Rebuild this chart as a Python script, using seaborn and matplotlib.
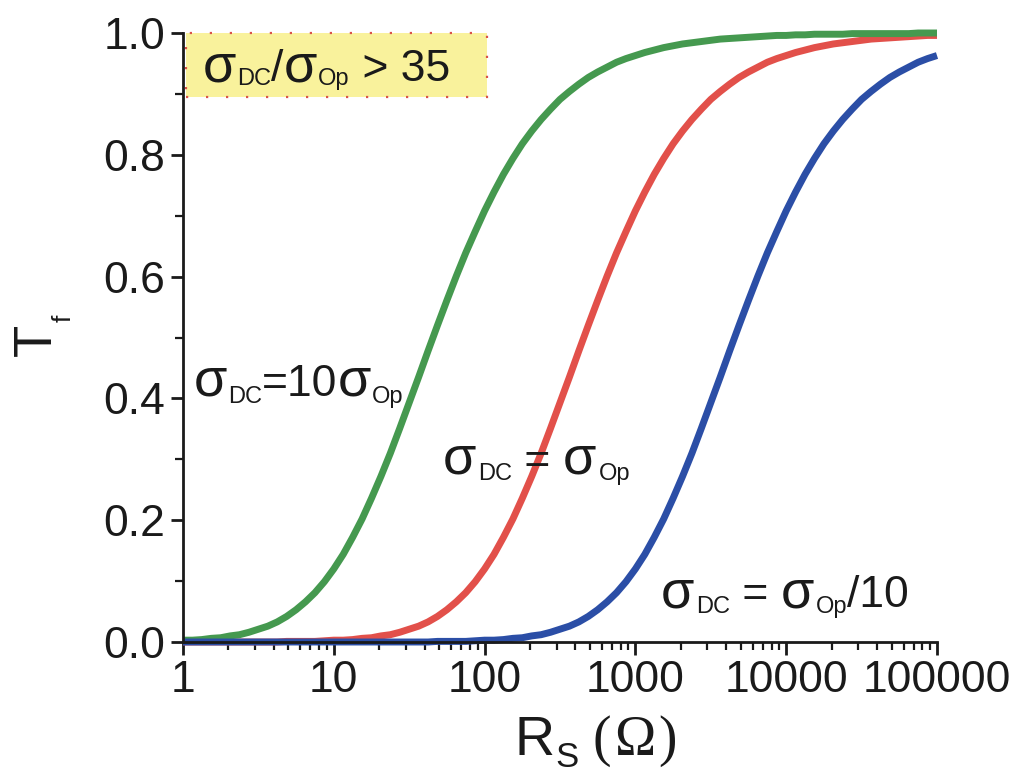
import matplotlib
matplotlib.use("Agg")
import matplotlib.pyplot as plt
import matplotlib.ticker as mticker
from matplotlib.patches import Rectangle
import numpy as np
import pandas as pd
import seaborn as sns

# Sheet resistance R_S (ohm), sampled every 1/16 decade
r_s = [1.000, 1.155, 1.334, 1.540, 1.778, 2.054, 2.371, 2.738,
       3.162, 3.652, 4.217, 4.870, 5.623, 6.494, 7.499, 8.660,
       10.00, 11.55, 13.34, 15.40, 17.78, 20.54, 23.71, 27.38,
       31.62, 36.52, 42.17, 48.70, 56.23, 64.94, 74.99, 86.60,
       100.0, 115.5, 133.4, 154.0, 177.8, 205.4, 237.1, 273.8,
       316.2, 365.2, 421.7, 487.0, 562.3, 649.4, 749.9, 866.0,
       1000, 1155, 1334, 1540, 1778, 2054, 2371, 2738,
       3162, 3652, 4217, 4870, 5623, 6494, 7499, 8660,
       10000, 11550, 13340, 15400, 17780, 20540, 23710, 27380,
       31620, 36520, 42170, 48700, 56230, 64940, 74990, 86600,
       100000]

# Transmittance T_f, sigma_DC = 10 sigma_Op
t_ratio_10 = [0.003, 0.003, 0.004, 0.006, 0.007, 0.010, 0.012, 0.016,
              0.021, 0.026, 0.033, 0.042, 0.053, 0.066, 0.081, 0.099,
              0.120, 0.144, 0.172, 0.202, 0.236, 0.272, 0.310, 0.351,
              0.393, 0.435, 0.478, 0.520, 0.561, 0.601, 0.639, 0.674,
              0.708, 0.739, 0.768, 0.794, 0.818, 0.839, 0.858, 0.875,
              0.891, 0.904, 0.916, 0.927, 0.936, 0.944, 0.952, 0.958,
              0.963, 0.968, 0.972, 0.976, 0.979, 0.982, 0.984, 0.986,
              0.988, 0.990, 0.991, 0.992, 0.993, 0.994, 0.995, 0.996,
              0.996, 0.997, 0.997, 0.998, 0.998, 0.998, 0.998, 0.999,
              0.999, 0.999, 0.999, 0.999, 0.999, 0.999, 1.000, 1.000,
              1.000]
# sigma_DC = sigma_Op
t_ratio_1 = [0.000, 0.000, 0.000, 0.000, 0.000, 0.000, 0.000, 0.000,
             0.000, 0.000, 0.000, 0.001, 0.001, 0.001, 0.001, 0.002,
             0.003, 0.003, 0.004, 0.006, 0.007, 0.010, 0.012, 0.016,
             0.021, 0.026, 0.033, 0.042, 0.053, 0.066, 0.081, 0.099,
             0.120, 0.144, 0.172, 0.202, 0.236, 0.272, 0.310, 0.351,
             0.393, 0.435, 0.478, 0.520, 0.561, 0.601, 0.639, 0.674,
             0.708, 0.739, 0.768, 0.794, 0.818, 0.839, 0.858, 0.875,
             0.891, 0.904, 0.916, 0.927, 0.936, 0.944, 0.952, 0.958,
             0.963, 0.968, 0.972, 0.976, 0.979, 0.982, 0.984, 0.986,
             0.988, 0.990, 0.991, 0.992, 0.993, 0.994, 0.995, 0.996,
             0.996]
# sigma_DC = sigma_Op / 10
t_ratio_01 = [0.000, 0.000, 0.000, 0.000, 0.000, 0.000, 0.000, 0.000,
              0.000, 0.000, 0.000, 0.000, 0.000, 0.000, 0.000, 0.000,
              0.000, 0.000, 0.000, 0.000, 0.000, 0.000, 0.000, 0.000,
              0.000, 0.000, 0.000, 0.001, 0.001, 0.001, 0.001, 0.002,
              0.003, 0.003, 0.004, 0.006, 0.007, 0.010, 0.012, 0.016,
              0.021, 0.026, 0.033, 0.042, 0.053, 0.066, 0.081, 0.099,
              0.120, 0.144, 0.172, 0.202, 0.236, 0.272, 0.310, 0.351,
              0.393, 0.435, 0.478, 0.520, 0.561, 0.601, 0.639, 0.674,
              0.708, 0.739, 0.768, 0.794, 0.818, 0.839, 0.858, 0.875,
              0.891, 0.904, 0.916, 0.927, 0.936, 0.944, 0.952, 0.958,
              0.963]

series_names = ["ratio_1", "ratio_10", "ratio_01"]
series_colors = {"ratio_10": "#45994f", "ratio_1": "#e2504a", "ratio_01": "#2b4ea6"}

x_tick_values = [1, 10, 100, 1000, 10000, 100000]
x_tick_labels = ["1", "10", "100", "1000", "10000", "100000"]
y_tick_values = [0.0, 0.2, 0.4, 0.6, 0.8, 1.0]
y_tick_labels = ["0.0", "0.2", "0.4", "0.6", "0.8", "1.0"]

curves = {"ratio_10": t_ratio_10, "ratio_1": t_ratio_1, "ratio_01": t_ratio_01}
df = pd.concat(
    [pd.DataFrame({"R": r_s, "T": curves[name], "series": name}) for name in series_names],
    ignore_index=True,
)

sns.set_style("ticks")
plt.rcParams["font.family"] = ["Liberation Sans", "DejaVu Sans"]

W, H = 1022, 774
fig = plt.figure(figsize=(W / 100, H / 100), dpi=100)
fig.patch.set_facecolor("white")
ax = fig.add_axes([183 / W, 1 - 642 / H, (937 - 183) / W, (642 - 33) / H])

sns.lineplot(data=df, x="R", y="T", hue="series", hue_order=series_names,
             palette=series_colors, linewidth=5.0, legend=False, ax=ax,
             estimator=None, sort=False)
for ln in ax.lines:
    ln.set_clip_on(False)
    ln.set_solid_capstyle("butt")
    ln.set_solid_joinstyle("round")

ax.set_xscale("log")
ax.set_xlim(1, 100000)
ax.set_ylim(0, 1)
ax.set_xticks(x_tick_values)
ax.set_xticklabels(x_tick_labels)
ax.xaxis.set_minor_locator(mticker.LogLocator(base=10, subs=np.arange(2, 10), numticks=20))
ax.xaxis.set_minor_formatter(mticker.NullFormatter())
ax.set_yticks(y_tick_values)
ax.set_yticklabels(y_tick_labels)
ax.yaxis.set_minor_locator(mticker.MultipleLocator(0.1))
ax.set_xlabel("")
ax.set_ylabel("")

for side in ("top", "right"):
    ax.spines[side].set_visible(False)
for side in ("left", "bottom"):
    ax.spines[side].set_linewidth(2.0)
    ax.spines[side].set_color("#1a1a1a")
ax.tick_params(which="major", direction="out", length=9, width=2.0,
               labelsize=32, color="#1a1a1a", labelcolor="#1a1a1a", pad=4)
ax.tick_params(which="minor", direction="out", length=6, width=1.6, color="#1a1a1a")

# Highlighted note box in the upper-left corner
box = Rectangle((0.004, 0.895), 0.399, 0.105, transform=ax.transAxes,
                facecolor="#f9f29c", edgecolor="#d9534a", linewidth=1.6,
                linestyle=(0, (1, 8)), zorder=1, clip_on=False)
ax.add_patch(box)

fig.canvas.draw()
renderer = fig.canvas.get_renderer()


def rich_text(x, y_top, pieces, color="#1a1a1a"):
    """Draw text pieces side by side; x, y_top in pixels from top-left."""
    cur = x
    for s, size, dy, family, gap in pieces:
        t = fig.text((cur + gap) / W, (H - y_top + dy) / H, s, fontsize=size,
                     family=family, ha="left", va="baseline", color=color)
        bb = t.get_window_extent(renderer)
        cur = bb.x1


sans = ["Liberation Sans", "DejaVu Sans"]
serif = ["Liberation Serif", "DejaVu Serif"]

rich_text(203, 81, [("σ", 39, 0, sans, 0), ("DC", 17, -4, sans, 1),
                    ("/", 32, 0, sans, 0), ("σ", 39, 0, sans, 0), ("Op", 17, -4, sans, 1),
                    (" > 35", 32, 0, sans, 0)])
rich_text(194, 396, [("σ", 39, 0, sans, 0), ("DC", 17, -7, sans, 1),
                     ("=10", 32, 0, sans, 0), ("σ", 39, 0, sans, 0), ("Op", 17, -7, sans, 1)])
rich_text(443, 474, [("σ", 39, 0, sans, 0), ("DC", 17, -6, sans, 2),
                     (" = ", 32, 0, sans, 0), ("σ", 39, 0, sans, 0), ("Op", 17, -6, sans, 2)])
rich_text(661, 607, [("σ", 39, 0, sans, 0), ("DC", 17, -6, sans, 2),
                     (" = ", 32, 0, sans, 0), ("σ", 39, 0, sans, 0), ("Op", 17, -6, sans, 1),
                     ("/10", 32, 0, sans, 0)])

# Axis titles
rich_text(514, 755, [("R", 40, 0, sans, 0), ("S", 25, -12, sans, 1),
                     ("(", 40, 0, serif, 14), ("Ω", 40, 0, serif, 3), (")", 40, 0, serif, 3)])
fig.text(51 / W, 1 - 356 / H, "T", fontsize=38, rotation=90, rotation_mode="anchor",
         ha="left", va="baseline", family=sans, color="#1a1a1a")
fig.text(71 / W, 1 - 322 / H, "f", fontsize=19, rotation=90, rotation_mode="anchor",
         ha="left", va="baseline", family=sans, color="#1a1a1a")

fig.savefig("out.png", dpi=100, facecolor="white")
